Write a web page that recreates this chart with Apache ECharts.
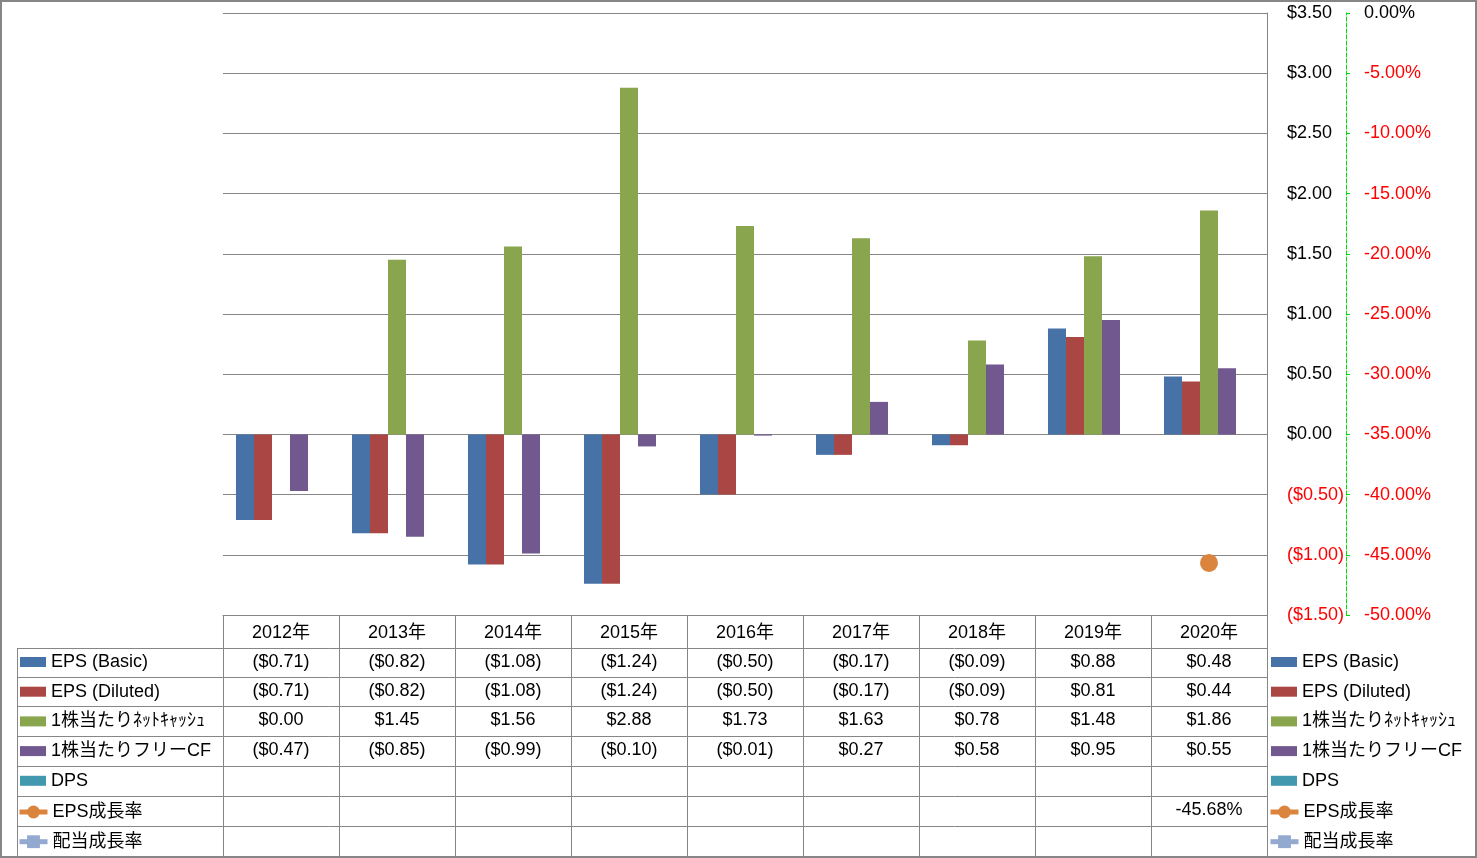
<!DOCTYPE html>
<html>
<head>
<meta charset="utf-8">
<script src="https://cdn.jsdelivr.net/npm/echarts@6/dist/echarts.min.js"></script>
<style>
  html, body { margin: 0; padding: 0; background: #fff; }
  #chart { width: 1477px; height: 858px; }
</style>
</head>
<body>
<div id="chart"></div>
<script>
// chart data
var years = ['2012年', '2013年', '2014年', '2015年', '2016年', '2017年', '2018年', '2019年', '2020年']
var epsBasic = [-0.71, -0.82, -1.08, -1.24, -0.50, -0.17, -0.09, 0.88, 0.48]
var epsDiluted = [-0.71, -0.82, -1.08, -1.24, -0.50, -0.17, -0.09, 0.81, 0.44]
var netCash = [0.00, 1.45, 1.56, 2.88, 1.73, 1.63, 0.78, 1.48, 1.86]
var freeCF = [-0.47, -0.85, -0.99, -0.10, -0.01, 0.27, 0.58, 0.95, 0.55]
var dps = [null, null, null, null, null, null, null, null, null]
var epsGrowth = [null, null, null, null, null, null, null, null, -45.68]
var divGrowth = [null, null, null, null, null, null, null, null, null]

var names = ['EPS (Basic)', 'EPS (Diluted)', '1株当たりﾈｯﾄｷｬｯｼｭ', '1株当たりフリーCF', 'DPS', 'EPS成長率', '配当成長率']
var colors = ['#4672A8', '#AA4744', '#89A54E', '#71598F', '#4198AF', '#DB843D', '#93A9CF']

var font = '"Liberation Sans", "Noto Sans CJK JP", sans-serif'
var gray = '#868686'

function money(v) {
  if (v === null || v === undefined) return ''
  if (v < 0) return '($' + (-v).toFixed(2) + ')'
  return '$' + v.toFixed(2)
}
function pct(v) {
  if (v === null || v === undefined) return ''
  return v.toFixed(2) + '%'
}

var chart = echarts.init(document.getElementById('chart'))

function barSeries(i, data) {
  return {
    name: names[i],
    type: 'bar',
    data: data,
    barGap: 0,
    barCategoryGap: '22.4%',
    itemStyle: { color: colors[i] }
  }
}
function lineSeries(i, data, symbol) {
  return {
    name: names[i],
    type: 'line',
    yAxisIndex: 1,
    data: data,
    symbol: symbol,
    symbolSize: 18,
    showSymbol: true,
    itemStyle: { color: colors[i] },
    lineStyle: { color: colors[i], width: 3 }
  }
}

// bar swatches and line+marker swatches need different icon heights,
// so each side gets two legend blocks
function barLegend(left) {
  return {
    orient: 'vertical',
    left: left,
    top: 652,
    padding: 0,
    itemWidth: 26,
    itemHeight: 10,
    itemGap: 9.7,
    selectedMode: false,
    icon: 'rect',
    data: names.slice(0, 5),
    textStyle: { fontFamily: font, fontSize: 18, color: '#000', lineHeight: 20 }
  }
}
function lineLegend(left) {
  return {
    orient: 'vertical',
    left: left - 3,
    top: 802,
    padding: 0,
    itemWidth: 28,
    itemHeight: 16,
    itemGap: 9.7,
    selectedMode: false,
    data: names.slice(5),
    lineStyle: { width: 5 },
    textStyle: { fontFamily: font, fontSize: 18, color: '#000', lineHeight: 20 }
  }
}

chart.setOption({
  animation: false,
  color: colors,
  textStyle: { fontFamily: font },
  grid: { left: 223, right: 210, top: 13, bottom: 243 },
  legend: [barLegend(20), barLegend(1271), lineLegend(20), lineLegend(1271)],
  xAxis: {
    type: 'category',
    data: years,
    axisLine: { onZero: false, lineStyle: { color: gray } },
    axisTick: { show: true, length: 242, lineStyle: { color: gray } },
    axisLabel: { fontFamily: font, fontSize: 18, color: '#000', margin: 9 }
  },
  yAxis: [{
    type: 'value',
    position: 'right',
    min: -1.5,
    max: 3.5,
    interval: 0.5,
    axisLine: { show: true, lineStyle: { color: gray } },
    axisTick: { show: false },
    splitLine: { lineStyle: { color: gray } },
    axisLabel: {
      margin: 20,
      fontFamily: font,
      fontSize: 18,
      formatter: money,
      color: function(v) { return v < 0 ? '#FF0000' : '#000' }
    }
  }, {
    type: 'value',
    position: 'right',
    offset: 79,
    min: -50,
    max: 0,
    interval: 5,
    axisLine: { show: true, lineStyle: { color: '#00DD00', type: 'dashed' } },
    axisTick: { show: true, length: 4, lineStyle: { color: '#00DD00' } },
    splitLine: { show: false },
    axisLabel: {
      margin: 18,
      fontFamily: font,
      fontSize: 18,
      formatter: pct,
      color: function(v) { return v < 0 ? '#FF0000' : '#000' }
    }
  }],
  series: [
    barSeries(0, epsBasic),
    barSeries(1, epsDiluted),
    barSeries(2, netCash),
    barSeries(3, freeCF),
    barSeries(4, dps),
    lineSeries(5, epsGrowth, 'circle'),
    lineSeries(6, divGrowth, 'rect')
  ]
})

// data table under the plot
var rows = [
  epsBasic.map(money),
  epsDiluted.map(money),
  netCash.map(money),
  freeCF.map(money),
  dps.map(money),
  epsGrowth.map(pct),
  divGrowth.map(pct)
]
var rowLines = [648, 677, 706, 736, 766, 796, 826]
var rowCenters = [662, 691, 720, 750, 780, 810, 840]

var graphics = []
graphics.push({
  type: 'rect',
  shape: { x: 1, y: 1, width: 1475, height: 856 },
  style: { fill: null, stroke: gray, lineWidth: 2 },
  silent: true
})
rowLines.forEach(function(y) {
  graphics.push({
    type: 'line',
    shape: { x1: 17, y1: y + 0.5, x2: 1267, y2: y + 0.5 },
    style: { stroke: gray, lineWidth: 1 },
    silent: true
  })
})
graphics.push({
  type: 'line',
  shape: { x1: 17.5, y1: 648, x2: 17.5, y2: 858 },
  style: { stroke: gray, lineWidth: 1 },
  silent: true
})
rows.forEach(function(row, r) {
  row.forEach(function(txt, c) {
    if (!txt) return
    var x = chart.convertToPixel({ xAxisIndex: 0 }, c)
    graphics.push({
      type: 'text',
      x: x,
      y: rowCenters[r],
      style: {
        text: txt,
        fill: '#000',
        font: '18px ' + font,
        align: 'center',
        verticalAlign: 'middle'
      },
      silent: true
    })
  })
})

chart.setOption({ graphic: graphics })
</script>
</body>
</html>
